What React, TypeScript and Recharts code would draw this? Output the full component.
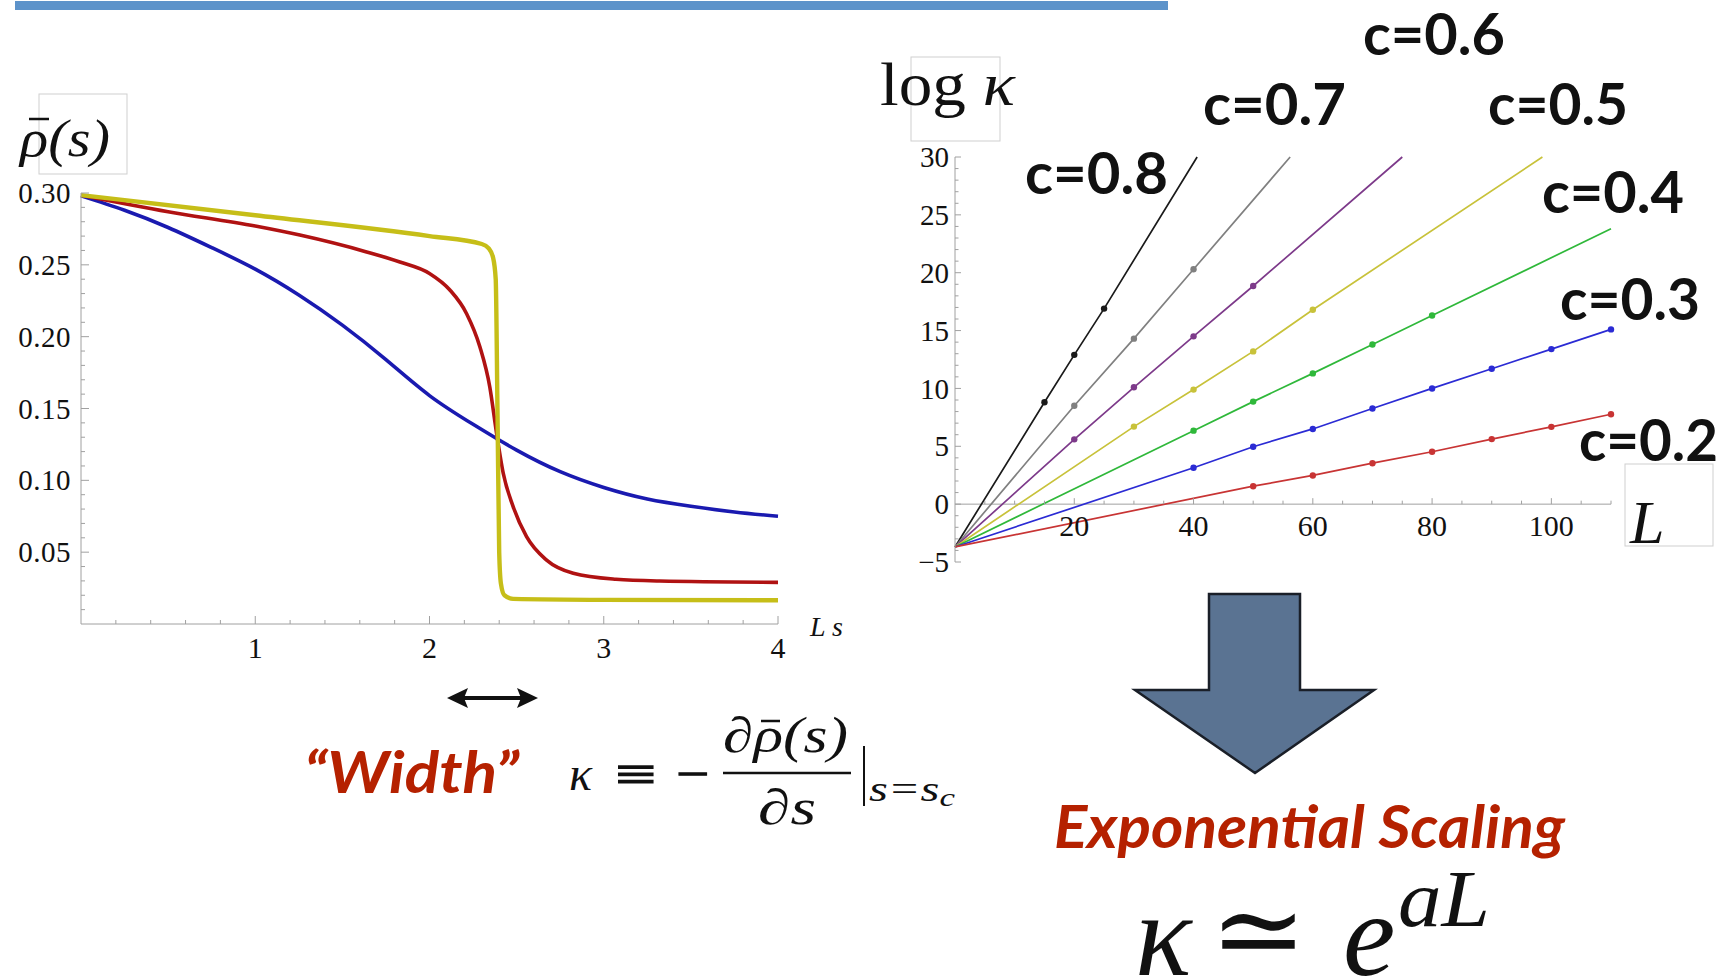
import { LineChart, Line, XAxis, YAxis, ReferenceLine, ReferenceDot } from 'recharts';

// ---- left panel: rho-bar(s) vs L s ----
const S_BLUE = [0, 0.25, 0.5, 0.75, 1, 1.25, 1.5, 1.75, 2, 2.25, 2.5, 2.75, 3, 3.25, 3.5, 3.75, 4];
const RHO_BLUE = [0.298, 0.288, 0.276, 0.262, 0.247, 0.229, 0.208, 0.184, 0.159, 0.139, 0.121, 0.106, 0.095, 0.087, 0.082, 0.078, 0.075];

const S_RED = [0, 0.5, 1, 1.256, 1.639, 1.83, 2, 2.117, 2.213, 2.289, 2.346, 2.385, 2.423, 2.48, 2.557, 2.672, 2.825, 3.07, 3.32, 4];
const RHO_RED = [0.2985, 0.287, 0.277, 0.2707, 0.259, 0.252, 0.244, 0.2325, 0.216, 0.193, 0.165, 0.1327, 0.105, 0.0817, 0.0608, 0.0445, 0.0353, 0.0311, 0.0299, 0.029];

const S_YELLOW = [0, 1, 2, 2.3, 2.34, 2.365, 2.38, 2.39, 2.4, 2.41, 2.43, 2.48, 3, 4];
const RHO_YELLOW = [0.2985, 0.2845, 0.27, 0.2645, 0.2615, 0.255, 0.24, 0.15, 0.05, 0.028, 0.02, 0.0175, 0.0168, 0.0165];

const LEFT_Y_MAJOR = [0.05, 0.1, 0.15, 0.2, 0.25, 0.3];
const LEFT_X_MAJOR = [1, 2, 3, 4];

// ---- right panel: log kappa vs L ----
const ORIGIN_K = -3.7;
const C_LABELS = ['c=0.8', 'c=0.7', 'c=0.6', 'c=0.5', 'c=0.4', 'c=0.3', 'c=0.2'];
const C_COLORS = ['#1a1a1a', '#808080', '#7d3a8a', '#c8c23a', '#2fb83a', '#2b2bd4', '#c83434'];

const L_08 = [15, 20, 25];
const K_08 = [8.8, 12.9, 16.9];
const L_07 = [20, 30, 40];
const K_07 = [8.5, 14.3, 20.3];
const L_06 = [20, 30, 40, 50];
const K_06 = [5.6, 10.1, 14.5, 18.85];
const L_05 = [30, 40, 50, 60];
const K_05 = [6.7, 9.9, 13.2, 16.8];
const L_04 = [40, 50, 60, 70, 80];
const K_04 = [6.35, 8.86, 11.3, 13.8, 16.3];
const L_03 = [40, 50, 60, 70, 80, 90, 100, 110];
const K_03 = [3.14, 4.96, 6.5, 8.27, 10.0, 11.7, 13.4, 15.1];
const L_02 = [50, 60, 70, 80, 90, 100, 110];
const K_02 = [1.55, 2.48, 3.54, 4.53, 5.62, 6.68, 7.77];

// where each fitted line leaves the plot (null = ends on its last marker)
const END_08 = [40.6, 30];
const END_07 = [56.2, 30];
const END_06 = [75.0, 30];
const END_05 = [98.5, 30];
const END_04 = [110, 23.8];

const RIGHT_Y_MAJOR = [-5, 0, 5, 10, 15, 20, 25, 30];
const RIGHT_X_MAJOR = [20, 40, 60, 80, 100];

const AXIS = '#a0a0a0';
const SERIF = "'Liberation Serif', 'DejaVu Serif', serif";
const SANS = "Lato, 'Open Sans', sans-serif";
const RED_TEXT = '#b52100';

const zip = (xs: number[], ys: number[], kx: string, ky: string) =>
  xs.map((v, i) => ({ [kx]: v, [ky]: ys[i] }));

const buildSeries = (ls: number[], ks: number[], end: number[] | null) => [
  { L: 0, k: ORIGIN_K, m: false },
  ...ls.map((l, i) => ({ L: l, k: ks[i], m: true })),
  ...(end ? [{ L: end[0], k: end[1], m: false }] : []),
];

const RIGHT_SERIES = [
  buildSeries(L_08, K_08, END_08),
  buildSeries(L_07, K_07, END_07),
  buildSeries(L_06, K_06, END_06),
  buildSeries(L_05, K_05, END_05),
  buildSeries(L_04, K_04, END_04),
  buildSeries(L_03, K_03, null),
  buildSeries(L_02, K_02, null),
];

const steps = (from: number, to: number, step: number) => {
  const out: number[] = [];
  for (let v = from; v <= to + step / 2; v += step) out.push(+v.toFixed(4));
  return out;
};
const LEFT_Y_TICKS = steps(0.01, 0.3, 0.01);
const LEFT_X_TICKS = steps(0.2, 4, 0.2);
const RIGHT_Y_TICKS = steps(-5, 30, 1);
const RIGHT_X_TICKS = steps(5, 110, 5);

const isIn = (v: number, list: number[]) => list.some((m) => Math.abs(m - v) < 1e-6);

function LeftYTick(props: any) {
  const { x, y, payload } = props;
  const major = isIn(payload.value, LEFT_Y_MAJOR);
  const ax = x + 10;
  return (
    <g>
      <line x1={ax} x2={ax + (major ? 8 : 4)} y1={y} y2={y} stroke={AXIS} />
      {major && (
        <text x={x} y={y} dy="0.35em" textAnchor="end" fontFamily={SERIF} fontSize={29} letterSpacing={0.5} fill="#111">
          {payload.value.toFixed(2)}
        </text>
      )}
    </g>
  );
}

function LeftXTick(props: any) {
  const { x, y, payload } = props;
  const major = isIn(payload.value, LEFT_X_MAJOR);
  const ay = y - 14;
  return (
    <g>
      <line x1={x} x2={x} y1={ay} y2={ay - (major ? 8 : 4)} stroke={AXIS} />
      {major && (
        <text x={x} y={ay + 11} dy="0.75em" textAnchor="middle" fontFamily={SERIF} fontSize={30} fill="#111">
          {payload.value}
        </text>
      )}
    </g>
  );
}

function RightYTick(props: any) {
  const { x, y, payload } = props;
  const major = isIn(payload.value, RIGHT_Y_MAJOR);
  const ax = x + 6;
  return (
    <g>
      <line x1={ax} x2={ax + (major ? 6 : 3.5)} y1={y} y2={y} stroke={AXIS} />
      {major && (
        <text x={x} y={y} dy="0.35em" textAnchor="end" fontFamily={SERIF} fontSize={29} fill="#111">
          {payload.value < 0 ? `\u2212${Math.abs(payload.value)}` : payload.value}
        </text>
      )}
    </g>
  );
}

const rightXTick = (value: number) => (p: any) => {
  const major = isIn(value, RIGHT_X_MAJOR);
  return (
    <g>
      <line x1={p.cx} x2={p.cx} y1={p.cy} y2={p.cy - (major ? 6 : 3.5)} stroke={AXIS} />
      {major && (
        <text x={p.cx} y={p.cy + 32} textAnchor="middle" fontFamily={SERIF} fontSize={30} fill="#111">
          {value}
        </text>
      )}
    </g>
  );
};

const markDot = (color: string) => (props: any) => {
  const { cx, cy, payload, index } = props;
  if (!payload.m) return <g key={`n${index}`} />;
  return <circle key={`d${index}`} cx={cx} cy={cy} r={3.2} fill={color} />;
};

// c= labels: [x, baseline, width]
const C_LABEL_POS = [
  [1025, 194, 143],
  [1203, 125, 143],
  [1363, 55, 142],
  [1488, 125, 140],
  [1542, 213, 142],
  [1560, 320, 140],
  [1579, 461, 139],
];

function Overlay() {
  return (
    <svg width={1731} height={979} style={{ position: 'absolute', left: 0, top: 0, pointerEvents: 'none' }}>
      {/* cut-off title underline */}
      <rect x={15} y={1} width={1153} height={9} fill="#5d93ca" />

      {/* left axis labels */}
      <rect x={39} y={94} width={88} height={80} fill="none" stroke="#cfcfcf" />
      <text x={20} y={156} fontFamily={SERIF} fontStyle="italic" fontSize={52} textLength={90} lengthAdjust="spacingAndGlyphs" fill="#111">
        {'\u03C1(s)'}
      </text>
      <line x1={29} x2={49} y1={119} y2={119} stroke="#111" strokeWidth={2.5} />
      <text x={810} y={636} fontFamily={SERIF} fontStyle="italic" fontSize={28} fill="#111">L s</text>

      {/* right axis labels */}
      <rect x={911} y={57} width={89} height={84} fill="none" stroke="#cfcfcf" />
      <text x={880} y={105} fontFamily={SERIF} fontSize={62} textLength={135} lengthAdjust="spacingAndGlyphs" fill="#111">
        log <tspan fontStyle="italic">{'\u03BA'}</tspan>
      </text>
      <rect x={1625} y={464} width={88} height={82} fill="none" stroke="#cfcfcf" />
      <text x={1630} y={543} fontFamily={SERIF} fontStyle="italic" fontSize={62} fill="#111">L</text>

      {C_LABELS.map((t, i) => (
        <text key={t} x={C_LABEL_POS[i][0]} y={C_LABEL_POS[i][1]} fontFamily={SANS} fontWeight={700} fontSize={58}
          textLength={C_LABEL_POS[i][2]} lengthAdjust="spacingAndGlyphs" fill="#111">
          {t}
        </text>
      ))}

      {/* width arrow */}
      <line x1={462} x2={524} y1={698} y2={698} stroke="#111" strokeWidth={4} />
      <polygon points="447,698 468,688 464,698 468,708" fill="#111" />
      <polygon points="538,698 517,688 521,698 517,708" fill="#111" />

      <text x={304} y={793} fontFamily={SANS} fontWeight={700} fontStyle="italic" fontSize={57} textLength={215}
        lengthAdjust="spacingAndGlyphs" fill={RED_TEXT}>
        {'\u201CWidth\u201D'}
      </text>

      {/* kappa definition */}
      <g fontFamily={SERIF} fill="#111">
        <text x={569} y={790} fontStyle="italic" fontSize={48}>{'\u03BA'}</text>
        <text x={615} y={791} fontSize={50} textLength={41} lengthAdjust="spacingAndGlyphs" stroke="#111" strokeWidth={1.2}>{'\u2261'}</text>
        <text x={676} y={790} fontSize={48} textLength={33} lengthAdjust="spacingAndGlyphs" stroke="#111" strokeWidth={1.2}>{'\u2212'}</text>
        <text x={723} y={752} fontStyle="italic" fontSize={50} textLength={125} lengthAdjust="spacingAndGlyphs">
          {'\u2202\u03C1(s)'}
        </text>
        <line x1={761} x2={780} y1={721} y2={721} stroke="#111" strokeWidth={2.5} />
        <line x1={723} x2={851} y1={773} y2={773} stroke="#111" strokeWidth={2.5} />
        <text x={758} y={824} fontStyle="italic" fontSize={50} textLength={58} lengthAdjust="spacingAndGlyphs">{'\u2202s'}</text>
        <line x1={864} x2={864} y1={746} y2={806} stroke="#111" strokeWidth={2} />
        <text x={869} y={801} fontStyle="italic" fontSize={36} textLength={86} lengthAdjust="spacingAndGlyphs">
          s=s<tspan fontSize={26} dy={5}>c</tspan>
        </text>
      </g>

      {/* big arrow */}
      <polygon points="1209,594 1300,594 1300,690 1374,690 1255,773 1135,690 1209,690" fill="#5a7392" stroke="#1a1f28" strokeWidth={2.5} />

      <text x={1054} y={848} fontFamily={SANS} fontWeight={700} fontStyle="italic" fontSize={60} textLength={511}
        lengthAdjust="spacingAndGlyphs" fill={RED_TEXT}>
        Exponential Scaling
      </text>

      <g fontFamily={SERIF} fill="#111">
        <text x={1135} y={975} fontStyle="italic" fontSize={118}>{'\u03BA'}</text>
        <text x={1210} y={968} fontSize={112} textLength={97} lengthAdjust="spacingAndGlyphs">{'\u2243'}</text>
        <text x={1343} y={975} fontStyle="italic" fontSize={118}>e</text>
        <text x={1398} y={926} fontStyle="italic" fontSize={80} textLength={92} lengthAdjust="spacingAndGlyphs">aL</text>
      </g>
    </svg>
  );
}

export default function App() {
  return (
    <div style={{ position: 'absolute', left: 0, top: 0, width: 1731, height: 979, background: '#fff', overflow: 'hidden' }}>
      <div style={{ position: 'absolute', left: 0, top: 150 }}>
        <LineChart width={830} height={520} margin={{ top: 43, right: 52, bottom: 6, left: 10 }}>
          <XAxis type="number" dataKey="s" domain={[0, 4]} ticks={LEFT_X_TICKS} interval={0} tickSize={0} tickMargin={14}
            tickLine={false} axisLine={{ stroke: AXIS }} tick={LeftXTick} height={40} allowDuplicatedCategory={false} />
          <YAxis type="number" domain={[0, 0.3]} ticks={LEFT_Y_TICKS} interval={0} tickSize={0} tickMargin={10}
            tickLine={false} axisLine={{ stroke: AXIS }} tick={LeftYTick} width={71} />
          <Line data={zip(S_BLUE, RHO_BLUE, 's', 'rho')} dataKey="rho" type="natural" stroke="#1a1ab0" strokeWidth={3.6}
            dot={false} isAnimationActive={false} />
          <Line data={zip(S_RED, RHO_RED, 's', 'rho')} dataKey="rho" type="monotone" stroke="#b01212" strokeWidth={3.6}
            dot={false} isAnimationActive={false} />
          <Line data={zip(S_YELLOW, RHO_YELLOW, 's', 'rho')} dataKey="rho" type="monotone" stroke="#c6be18" strokeWidth={4.4}
            dot={false} isAnimationActive={false} />
        </LineChart>
      </div>

      <div style={{ position: 'absolute', left: 880, top: 120 }}>
        <LineChart width={760} height={470} margin={{ top: 37, right: 29, bottom: 28, left: 5 }}>
          <XAxis type="number" dataKey="L" domain={[0, 110]} hide allowDuplicatedCategory={false} />
          <YAxis type="number" domain={[-5, 30]} ticks={RIGHT_Y_TICKS} interval={0} tickSize={0} tickMargin={6}
            tickLine={false} axisLine={{ stroke: AXIS }} tick={RightYTick} width={70} />
          <ReferenceLine y={0} stroke={AXIS} />
          {RIGHT_X_TICKS.map((v) => (
            <ReferenceDot key={`xt${v}`} x={v} y={0} r={1} shape={rightXTick(v)} />
          ))}
          {RIGHT_SERIES.map((data, i) => (
            <Line key={C_LABELS[i]} data={data} dataKey="k" type="linear" stroke={C_COLORS[i]} strokeWidth={1.7}
              dot={markDot(C_COLORS[i])} isAnimationActive={false} />
          ))}
        </LineChart>
      </div>

      <Overlay />
    </div>
  );
}
